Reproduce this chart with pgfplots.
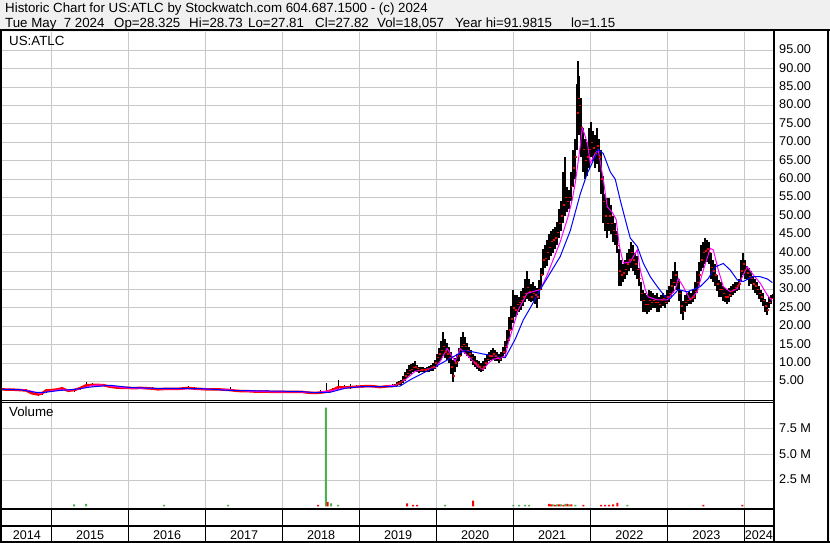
\documentclass[border=0pt]{standalone}
\usepackage{fontspec}
\setmainfont{Liberation Sans}
\usepackage{pgfplots}
\usepackage{pgfplotstable}
\pgfplotsset{compat=1.18}

\definecolor{bggray}{RGB}{240,240,240}
\definecolor{gridgray}{RGB}{200,200,200}
\definecolor{mamag}{RGB}{255,0,255}
\definecolor{mablue}{RGB}{0,0,255}
\definecolor{volgreen}{RGB}{76,175,80}

% daily bars, flat years (x = year, low, high, close)
\pgfplotstableread{
x lo hi cl
2014.357 2.6 3.1 2.9
2014.435 2.6 3.0 2.8
2014.513 2.6 3.0 2.8
2014.591 2.5 2.9 2.7
2014.669 2.4 2.9 2.6
2014.747 1.5 2.2 1.8
2014.825 1.2 1.9 1.5
2014.877 1.4 2.2 1.8
2014.929 2.0 3.0 2.6
2015.006 2.4 3.0 2.7
2015.084 2.6 3.2 2.9
2015.136 2.7 3.6 3.2
2015.214 2.2 2.8 2.5
2015.292 2.3 3.1 2.7
2015.370 2.8 3.6 3.2
2015.448 3.4 5.0 4.0
2015.526 3.6 4.5 4.1
2015.604 3.8 4.4 4.1
2015.682 3.7 4.3 4.0
2015.760 3.3 4.0 3.6
2015.838 3.1 3.7 3.4
2015.916 3.0 3.6 3.3
2015.994 3.0 3.6 3.3
2016.071 2.9 3.5 3.2
2016.149 3.0 3.6 3.3
2016.227 2.9 3.5 3.2
2016.305 2.8 3.4 3.1
2016.383 2.6 3.3 2.9
2016.461 2.7 3.3 3.0
2016.539 2.7 3.3 3.0
2016.617 2.8 3.3 3.0
2016.695 2.8 3.4 3.1
2016.773 2.9 3.8 3.3
2016.851 2.8 3.4 3.1
2016.929 2.8 3.3 3.0
2017.006 2.7 3.2 2.9
2017.084 2.7 3.2 2.9
2017.162 2.6 3.2 2.9
2017.240 2.5 3.1 2.8
2017.318 2.4 3.6 2.7
2017.396 2.2 2.8 2.5
2017.474 2.2 2.8 2.4
2017.552 2.1 2.7 2.4
2017.630 2.1 2.6 2.3
2017.708 2.0 2.6 2.3
2017.786 2.1 2.6 2.3
2017.864 2.0 2.5 2.2
2017.942 2.0 2.5 2.2
2018.019 2.0 2.5 2.2
2018.097 2.0 2.5 2.2
2018.175 2.0 2.4 2.2
2018.253 2.0 2.4 2.2
2018.331 1.8 2.3 2.0
2018.409 1.6 2.2 1.9
2018.487 1.7 2.6 2.0
2018.565 1.8 4.5 2.2
2018.643 2.2 3.3 2.7
2018.721 2.6 5.5 3.5
2018.799 3.0 4.2 3.4
2018.877 3.1 4.3 3.5
2018.955 3.3 4.2 3.6
2019.032 3.3 4.2 3.7
2019.110 3.4 4.2 3.8
2019.188 3.4 4.0 3.7
2019.266 3.2 3.9 3.5
2019.344 3.4 4.1 3.7
2019.422 3.5 4.3 3.8
2019.461 3.6 4.4 4.0
}\barsA

% daily bars from mid 2019 on
\pgfplotstableread{
x lo hi cl
2019.461 3.6 4.4 4.0
2019.487 3.8 4.8 4.4
2019.513 4.0 5.2 4.6
2019.539 4.2 5.5 5.0
2019.565 4.6 6.5 5.6
2019.591 5.2 7.5 6.5
2019.617 6.0 8.5 7.2
2019.643 6.5 9.5 8.0
2019.669 7.0 9.8 8.3
2019.695 7.5 10.0 8.8
2019.721 7.8 10.5 9.0
2019.747 7.5 9.5 8.5
2019.773 7.3 9.0 8.0
2019.799 7.5 9.0 8.2
2019.825 7.6 9.0 8.3
2019.851 7.5 8.8 8.2
2019.877 7.6 8.9 8.3
2019.903 7.7 9.2 8.5
2019.929 7.8 9.5 8.8
2019.955 8.0 10.0 9.0
2019.981 8.5 11.0 10.0
2020.006 9.0 12.5 11.5
2020.032 10.0 14.0 12.5
2020.058 11.0 16.0 13.5
2020.084 12.0 18.4 14.5
2020.110 11.5 16.5 13.0
2020.136 11.0 15.5 12.5
2020.162 10.0 14.5 11.5
2020.188 7.0 13.0 9.0
2020.214 5.0 11.0 6.5
2020.240 7.5 11.5 10.0
2020.266 9.0 12.5 10.5
2020.292 10.5 14.0 12.0
2020.318 12.0 17.0 14.5
2020.344 13.0 18.4 15.0
2020.370 12.5 17.0 14.5
2020.396 12.0 15.5 13.5
2020.422 11.5 14.5 12.5
2020.448 10.5 13.5 11.5
2020.474 9.5 12.5 10.5
2020.500 9.0 12.0 10.0
2020.526 8.5 11.0 9.5
2020.552 8.0 10.5 9.0
2020.578 7.5 10.0 8.5
2020.604 8.0 10.5 9.0
2020.630 8.5 11.5 10.0
2020.656 9.5 12.5 11.0
2020.682 10.5 13.0 12.0
2020.708 11.0 13.5 12.0
2020.734 11.0 14.0 12.5
2020.760 10.5 13.5 12.0
2020.786 10.5 13.0 11.5
2020.812 10.0 12.5 11.0
2020.838 10.5 13.0 11.5
2020.864 11.5 14.5 13.0
2020.890 12.5 16.0 14.5
2020.916 14.0 19.0 16.5
2020.942 16.0 22.5 19.0
2020.968 19.0 25.5 22.0
2020.994 21.0 30.0 25.0
2021.019 22.5 28.5 24.5
2021.045 23.0 28.5 26.0
2021.071 24.0 28.0 26.5
2021.097 24.5 29.5 27.0
2021.123 25.5 30.5 28.0
2021.149 26.5 33.0 29.0
2021.175 27.5 35.0 30.5
2021.201 27.0 33.0 29.5
2021.227 26.5 31.5 28.0
2021.253 27.0 32.0 29.0
2021.279 26.0 31.0 28.5
2021.305 25.0 30.5 28.0
2021.331 27.5 32.5 30.0
2021.357 30.0 36.0 34.0
2021.383 34.0 41.0 38.0
2021.409 36.0 42.0 38.5
2021.435 36.5 43.5 40.0
2021.461 38.0 45.0 41.5
2021.487 39.0 46.0 43.0
2021.513 40.0 46.5 43.5
2021.539 41.0 47.0 44.0
2021.565 42.0 48.5 45.5
2021.591 44.0 52.0 48.0
2021.617 46.0 54.0 50.0
2021.643 48.0 62.0 53.0
2021.669 50.0 66.0 55.0
2021.695 51.0 58.0 54.0
2021.721 52.0 57.0 55.0
2021.747 54.0 62.0 58.0
2021.773 58.0 68.0 63.0
2021.799 60.0 71.0 66.0
2021.825 68.0 86.0 78.0
2021.838 73.0 92.0 82.0
2021.851 72.0 88.0 80.0
2021.877 66.0 82.0 74.0
2021.903 62.0 74.0 68.0
2021.929 60.0 71.0 65.0
2021.955 61.0 70.0 66.0
2021.981 63.0 74.0 68.0
2022.006 66.0 75.5 70.0
2022.032 65.0 73.0 68.5
2022.058 63.0 72.0 67.0
2022.084 64.0 74.0 69.0
2022.110 62.0 71.0 66.0
2022.136 56.0 68.0 60.0
2022.162 48.0 61.0 54.0
2022.188 46.0 56.0 50.0
2022.214 44.0 55.0 48.0
2022.240 46.0 55.0 50.0
2022.266 45.0 53.0 48.0
2022.292 43.0 50.0 46.0
2022.318 42.0 48.0 45.0
2022.344 40.0 46.0 42.0
2022.370 31.0 41.0 35.0
2022.396 31.0 38.0 34.0
2022.422 32.0 37.0 34.5
2022.448 33.0 38.0 35.5
2022.474 34.0 40.0 37.0
2022.500 35.0 41.0 38.0
2022.526 36.0 43.0 40.0
2022.552 35.0 42.0 38.0
2022.578 34.0 40.0 37.0
2022.604 33.0 39.0 35.5
2022.630 31.0 36.0 33.0
2022.656 27.0 32.0 29.0
2022.682 24.0 30.0 27.0
2022.708 24.0 29.0 26.0
2022.734 23.5 28.5 26.0
2022.760 24.0 30.0 27.0
2022.786 24.5 29.5 26.5
2022.812 25.0 29.0 27.0
2022.838 25.0 28.5 26.5
2022.864 24.0 29.0 26.5
2022.890 24.0 28.0 26.0
2022.916 25.0 28.5 27.0
2022.942 25.5 29.0 27.5
2022.968 25.0 28.5 26.5
2022.994 26.0 30.0 28.0
2023.019 26.5 31.0 29.0
2023.045 28.0 33.0 31.0
2023.071 29.0 35.0 32.0
2023.097 31.0 37.6 34.0
2023.123 30.0 35.0 32.0
2023.149 27.0 33.0 29.0
2023.175 23.5 30.0 25.5
2023.201 21.7 27.0 24.0
2023.227 24.0 28.5 26.5
2023.253 25.5 29.0 27.0
2023.279 26.0 29.5 27.5
2023.305 26.0 29.0 27.5
2023.331 26.5 30.0 28.0
2023.357 27.5 32.0 29.5
2023.383 29.0 35.0 32.0
2023.409 31.0 37.5 34.0
2023.435 35.0 42.0 38.0
2023.461 36.0 43.0 40.0
2023.487 37.0 44.0 40.5
2023.513 37.5 43.5 41.0
2023.539 37.0 43.0 40.0
2023.565 33.0 40.0 36.0
2023.591 32.0 38.0 35.0
2023.617 31.0 37.0 34.0
2023.643 29.5 34.0 31.5
2023.669 28.0 32.5 30.0
2023.695 28.0 32.0 30.0
2023.721 27.0 31.0 29.0
2023.747 26.5 30.5 28.0
2023.773 26.0 30.0 28.0
2023.799 26.5 30.5 28.5
2023.825 28.0 31.0 29.5
2023.851 28.5 31.5 30.0
2023.877 29.0 32.0 30.5
2023.903 29.5 32.0 31.0
2023.929 30.0 33.0 31.5
2023.955 32.0 38.0 35.0
2023.981 34.0 40.0 37.0
2024.006 33.0 38.0 35.5
2024.032 32.5 36.5 34.5
2024.058 31.0 36.0 33.5
2024.084 31.5 35.0 33.0
2024.110 30.0 33.5 31.5
2024.136 29.0 33.0 31.0
2024.162 28.5 32.0 30.0
2024.188 27.5 31.0 29.0
2024.214 26.5 30.0 28.0
2024.240 25.5 29.0 27.0
2024.266 24.0 27.5 25.5
2024.292 23.0 26.5 24.5
2024.318 25.0 28.0 26.5
2024.344 26.0 28.5 27.5
2024.364 27.81 28.73 27.82
}\barsB

% short moving average (magenta)
\pgfplotstableread{
x y
2014.357 2.9
2014.591 2.8
2014.721 2.5
2014.851 1.8
2014.981 2.4
2015.110 2.8
2015.240 2.7
2015.370 3.0
2015.500 3.8
2015.630 4.1
2015.760 3.8
2015.955 3.3
2016.279 3.1
2016.604 3.0
2016.929 3.0
2017.253 2.8
2017.578 2.4
2017.903 2.2
2018.227 2.2
2018.422 2.0
2018.617 2.5
2018.812 3.3
2019.006 3.6
2019.266 3.6
2019.461 4.0
2019.591 5.5
2019.721 7.8
2019.851 8.3
2019.981 8.8
2020.045 10.5
2020.136 14.0
2020.240 10.5
2020.305 14.0
2020.435 11.4
2020.539 9.0
2020.604 8.3
2020.669 10.0
2020.734 11.1
2020.825 11.4
2020.890 12.0
2020.929 15.5
2020.994 20.0
2021.058 24.5
2021.175 29.0
2021.344 30.0
2021.435 34.0
2021.604 43.0
2021.708 50.0
2021.760 54.5
2021.799 59.0
2021.864 69.0
2021.890 74.0
2021.955 70.0
2021.994 64.4
2022.058 67.0
2022.097 68.0
2022.162 60.0
2022.214 52.5
2022.279 51.0
2022.331 49.0
2022.370 42.0
2022.422 37.2
2022.513 37.5
2022.604 40.8
2022.643 35.3
2022.708 30.0
2022.747 28.0
2022.864 27.2
2022.994 27.2
2023.097 30.0
2023.136 33.0
2023.201 30.8
2023.292 27.2
2023.383 29.4
2023.448 34.4
2023.552 41.2
2023.591 40.8
2023.656 35.3
2023.721 30.8
2023.812 29.4
2023.903 30.3
2023.968 33.5
2024.032 36.2
2024.110 34.0
2024.201 31.7
2024.292 28.5
2024.357 27.0
}\maShort

% long moving average (blue)
\pgfplotstableread{
x y
2014.357 2.9
2014.591 2.8
2014.786 2.1
2014.916 2.1
2015.110 2.6
2015.305 2.9
2015.500 3.5
2015.760 4.0
2016.019 3.4
2016.279 3.2
2016.929 3.1
2017.318 2.6
2017.968 2.4
2018.227 2.3
2018.422 2.0
2018.617 2.1
2018.812 3.2
2019.006 3.6
2019.396 3.6
2019.526 3.8
2019.656 5.5
2019.916 8.3
2020.149 11.0
2020.370 13.5
2020.604 12.5
2020.825 11.6
2020.890 11.5
2021.019 16.5
2021.123 21.7
2021.214 25.0
2021.344 30.0
2021.604 39.0
2021.734 46.0
2021.864 56.0
2021.955 61.6
2022.032 65.0
2022.097 68.0
2022.162 67.0
2022.253 62.0
2022.318 60.0
2022.383 54.3
2022.474 47.0
2022.513 44.0
2022.604 41.7
2022.682 37.2
2022.773 33.5
2022.864 30.8
2022.968 28.0
2023.032 27.6
2023.136 30.0
2023.253 29.4
2023.422 30.8
2023.526 33.0
2023.617 36.2
2023.721 37.1
2023.812 35.3
2023.903 32.6
2023.981 32.2
2024.097 33.5
2024.201 33.5
2024.292 32.9
2024.357 31.9
}\maLong

% volume in millions, up days / down days
\pgfplotstableread{
x v
2015.292 0.2
2015.448 0.25
2016.461 0.15
2017.292 0.15
2018.561 9.55
2018.630 0.3
2018.721 0.15
2020.110 0.15
2020.994 0.15
2021.071 0.15
2021.149 0.15
2021.201 0.15
2021.513 0.2
2021.565 0.2
2021.617 0.2
2021.669 0.25
2021.721 0.2
2021.799 0.15
2022.474 0.15
}\volUp
\pgfplotstableread{
x v
2018.461 0.15
2018.584 0.45
2019.617 0.3
2019.695 0.15
2019.747 0.15
2020.474 0.55
2021.461 0.25
2021.487 0.2
2021.539 0.15
2021.591 0.2
2021.643 0.15
2021.695 0.25
2021.747 0.2
2021.903 0.15
2022.136 0.15
2022.188 0.15
2022.240 0.15
2022.292 0.2
2022.344 0.35
2023.461 0.15
2023.968 0.15
}\volDown

\begin{document}
\begin{tikzpicture}[x=1pt,y=1pt]
\fill[bggray] (0,0) rectangle (830,543);
\fill[white] (773,0) rectangle (829,512);
\fill[white] (0,0) rectangle (773,34);

\pgfplotsset{
  chartbase/.style={
    scale only axis, anchor=south west, width=771pt,
    xmin=2014.357, xmax=2024.366,
    axis background/.style={fill=white},
    axis line style={draw=none},
    tick style={draw=none},
    major grid style={gridgray, line width=1pt},
    minor grid style={gridgray, line width=1pt},
    yticklabel pos=right,
    yticklabel style={anchor=west, inner sep=0pt, xshift=6pt, yshift=1pt,
      font=\fontsize{12.7}{14}\selectfont},
    /pgf/number format/assume math mode=true,
  },
}

\begin{axis}[chartbase,
  at={(2pt,143pt)}, height=368pt,
  ymin=0, ymax=100,
  xtick={2015,2016,...,2024}, xticklabels={},
  ytick={5,10,...,95},
  xmajorgrids, ymajorgrids,
  yticklabel={\pgfmathprintnumber[fixed,fixed zerofill,precision=2]{\tick}},
]
\addplot[draw=none, mark=none, forget plot,
  error bars/.cd, y dir=both, y explicit, error mark=none,
  error bar style={draw=black, line width=1pt}]
  table[x=x, y expr=(\thisrow{lo}+\thisrow{hi})/2,
        y error expr=(\thisrow{hi}-\thisrow{lo})/2] {\barsA};
\addplot[red, line width=2.5pt, mark=none] table[x=x, y=cl] {\barsA};
\addplot[draw=none, mark=none, forget plot,
  error bars/.cd, y dir=both, y explicit, error mark=none,
  error bar style={draw=black, line width=1.9pt}]
  table[x=x, y expr=(\thisrow{lo}+\thisrow{hi})/2,
        y error expr=(\thisrow{hi}-\thisrow{lo})/2] {\barsB};
\addplot[only marks, mark=-, mark size=1pt, red,
  mark options={line width=1.4pt, xshift=1pt}] table[x=x, y=cl] {\barsB};
\addplot[mamag, line width=1pt, mark=none] table[x=x, y=y] {\maShort};
\addplot[mablue, line width=1pt, mark=none] table[x=x, y=y] {\maLong};
\end{axis}

\begin{axis}[chartbase,
  at={(2pt,34pt)}, height=106pt,
  ymin=-0.25, ymax=10,
  xtick={2014.679,2015.5,2016.5,2017.5,2018.5,2019.5,2020.5,2021.5,2022.5,2023.5,2024.183},
  xticklabels={2014,2015,2016,2017,2018,2019,2020,2021,2022,2023,2024},
  xticklabel style={anchor=base, inner sep=0pt, yshift=-30.3pt,
    font=\fontsize{12.6}{14}\selectfont},
  minor xtick={2015,2016,...,2024},
  xminorgrids, ymajorgrids,
  ytick={2.5,5,7.5},
  yticklabels={2.5 M,5.0 M,7.5 M},
]
\addplot[ybar, bar width=2pt, fill=volgreen, draw=none] table[x=x, y=v] {\volUp};
\addplot[ybar, bar width=2pt, fill=red, draw=none] table[x=x, y=v] {\volDown};
\end{axis}

% frame
\draw[black, line width=2pt] (0,512.7) -- (830,512.7);
\draw[black, line width=2pt] (1,0) -- (1,513.7);
\draw[black, line width=0.9pt] (0,142.3) -- (773,142.3);
\draw[black, line width=0.9pt] (0,140.4) -- (773,140.4);
\draw[black, line width=2pt] (0,33.5) -- (773,33.5);
\draw[black, line width=1.3pt] (0,17) -- (773,17);
\draw[black, line width=2pt] (0,1.3) -- (830,1.3);
\draw[black, line width=2pt] (773.5,0) -- (773.5,513.7);
\draw[black, line width=2pt] (828,0) -- (828,513.7);
\foreach \px in {51.5,128.5,205.5,282.3,359.3,436.3,513.3,590.3,667.3,744.3}
  \draw[black, line width=1.3pt] (\px,0) -- (\px,33.5);

% texts
\begin{scope}[every node/.style={anchor=base west, inner sep=0pt,
    font=\fontsize{13.3}{15}\selectfont}]
\node at (5,530.3) {Historic Chart for US:ATLC by Stockwatch.com 604.687.1500 - (c) 2024};
\node at (5,515.7) {Tue May\ \ 7 2024};
\node at (114,515.7) {Op=28.325};
\node at (189,515.7) {Hi=28.73};
\node at (248,515.7) {Lo=27.81};
\node at (315,515.7) {Cl=27.82};
\node at (377,515.7) {Vol=18,057};
\node at (455,515.7) {Year hi=91.9815};
\node at (571,515.7) {lo=1.15};
\node at (9,497.3) {US:ATLC};
\node at (9,126.3) {Volume};
\end{scope}

\pgfresetboundingbox
\useasboundingbox (0,0) rectangle (830,543);
\end{tikzpicture}
\end{document}
